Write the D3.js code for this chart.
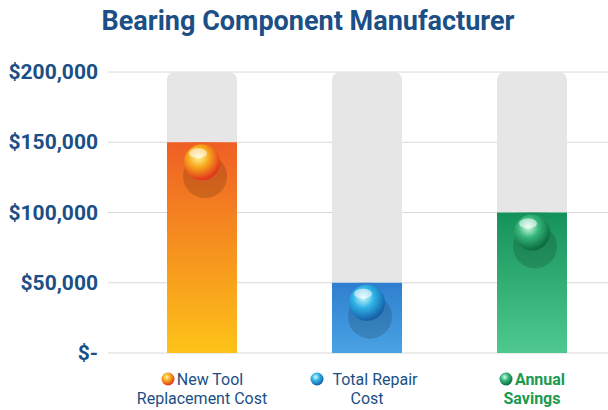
<!DOCTYPE html>
<html><head><meta charset="utf-8">
<script src="https://cdn.jsdelivr.net/npm/d3@7"></script>
<style>body{margin:0;background:#fff}svg{display:block}</style>
</head><body>
<svg id="c" width="608" height="410"></svg>
<script>
const categories = ["New Tool|Replacement Cost", "Total Repair|Cost", "Annual|Savings"];
const values = [150000, 50000, 100000];
const tickValues = [0, 50000, 100000, 150000, 200000];
const tickLabels = ["$-", "$50,000", "$100,000", "$150,000", "$200,000"];
const maxValue = 200000;

const svg = d3.select("#c");
const defs = svg.append("defs");
const palettes = [
  {top:"#ef5f25", bot:"#fdc318", ball:["#fff6a0","#f7a81c","#e2341c"], text:"#1b4f86", bold:false},
  {top:"#2f7fd0", bot:"#49a3e3", ball:["#d6fbff","#2fb3e6","#155ea8"], text:"#1b4f86", bold:false},
  {top:"#15925a", bot:"#4fc98f", ball:["#d8ffe8","#35b57a","#0b6b3e"], text:"#1a9a4f", bold:true}
];
palettes.forEach((p,i)=>{
  const g = defs.append("linearGradient").attr("id","g"+i).attr("x1",0).attr("y1",0).attr("x2",0).attr("y2",1);
  g.append("stop").attr("offset","0%").attr("stop-color",p.top);
  g.append("stop").attr("offset","100%").attr("stop-color",p.bot);
  const r = defs.append("radialGradient").attr("id","b"+i).attr("cx","40%").attr("cy","35%").attr("r","65%");
  r.append("stop").attr("offset","0%").attr("stop-color",p.ball[0]);
  r.append("stop").attr("offset","45%").attr("stop-color",p.ball[1]);
  r.append("stop").attr("offset","100%").attr("stop-color",p.ball[2]);
});

const y = d3.scaleLinear().domain([0, maxValue]).range([353, 72]);
const x = d3.scalePoint().domain(categories).range([202, 532]);

svg.append("text").attr("x", 308).attr("y", 30).attr("text-anchor","middle")
  .attr("font-family","Roboto, sans-serif").attr("font-weight","bold").attr("font-size",27)
  .attr("fill","#1b4f86").text("Bearing Component Manufacturer");

svg.append("g").selectAll("line").data(tickValues).join("line")
  .attr("x1",108).attr("x2",608).attr("y1",d=>y(d)).attr("y2",d=>y(d))
  .attr("stroke","#d8d8d8").attr("stroke-width",1);

const yAxis = d3.axisLeft(y).tickValues(tickValues).tickFormat((d,i)=>tickLabels[i]).tickSize(0).tickPadding(0);
const ag = svg.append("g").attr("transform","translate(98,0)").call(yAxis);
ag.select(".domain").remove();
ag.selectAll("text").attr("font-family","Roboto, sans-serif").attr("font-weight","bold")
  .attr("font-size",21).attr("fill","#1b4f86");

const bw = 70;
const cx = d => x(d);
const g = svg.append("g");
categories.forEach((c,i)=>{
  const left = cx(c) - bw/2;
  g.append("rect").attr("x",left).attr("y",y(maxValue)).attr("width",bw).attr("height",y(0)-y(maxValue))
    .attr("rx",8).attr("fill","#e6e6e6");
  g.append("rect").attr("x",left).attr("y",y(values[i])).attr("width",bw).attr("height",y(0)-y(values[i]))
    .attr("fill","url(#g"+i+")");
  g.append("ellipse").attr("cx",left+bw/2).attr("cy",y(values[i])+3).attr("rx",bw/2).attr("ry",3)
    .attr("fill",palettes[i].top).attr("opacity",0.7);
  const by = y(values[i]) + 20;
  g.append("circle").attr("cx",cx(c)+3).attr("cy",by+14).attr("r",22).attr("fill","#000").attr("opacity",0.15);
  g.append("circle").attr("cx",cx(c)).attr("cy",by).attr("r",18).attr("fill","url(#b"+i+")");
  g.append("ellipse").attr("cx",cx(c)-4).attr("cy",by-9).attr("rx",9).attr("ry",5).attr("fill","#fff").attr("opacity",0.55);

  const lines = c.split("|");
  const t = svg.append("text").attr("text-anchor","middle").attr("font-family","Roboto, sans-serif")
    .attr("font-size",16).attr("font-weight",palettes[i].bold?"bold":"normal").attr("fill",palettes[i].text);
  lines.forEach((l,k)=>t.append("tspan").attr("x",cx(c)+(k===0?8:0)).attr("y",385+k*19).text(l));
  const w0 = lines[0].length*8;
  svg.append("circle").attr("cx",cx(c)+8-w0/2-10).attr("cy",379).attr("r",6.5).attr("fill","url(#b"+i+")");
});
</script>
</body></html>
